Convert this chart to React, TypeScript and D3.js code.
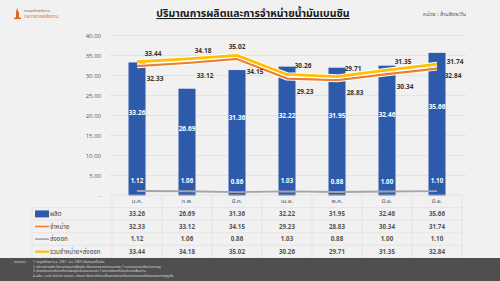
import React from 'react';
import * as d3 from 'd3';

// values in million litres / day
const months = ['ม.ค.', 'ก.พ.', 'มี.ค.', 'เม.ย.', 'พ.ค.', 'มิ.ย.', 'มิ.ย.'];
const production = [33.26, 26.69, 31.36, 32.22, 31.95, 32.46, 35.66];
const sales = [32.33, 33.12, 34.15, 29.23, 28.83, 30.34, 31.74];
const exports = [1.12, 1.06, 0.86, 1.03, 0.88, 1.0, 1.1];
const salesPlusExports = [33.44, 34.18, 35.02, 30.26, 29.71, 31.35, 32.84];
const yTicks = [0, 5, 10, 15, 20, 25, 30, 35, 40];

const seriesNames = ['ผลิต', 'จำหน่าย', 'ส่งออก', 'รวมจำหน่าย+ส่งออก'];

const footNotes = [
  '1. ข้อมูลปีล่าสุด (ม.ค. 2567 - มิ.ย. 2567) เป็นข้อมูลเบื้องต้น',
  '2. ปริมาณการผลิต ไม่รวมการนำเข้าเพื่อผลิต ปริมาณการจำหน่ายตามมาตรา 7 รวมการจำหน่ายให้หน่วยงานรัฐ',
  '3. ส่งออกรวมการส่งออกโดยบริษัทผู้ค้าน้ำมันตามมาตรา 7 และการส่งออกไปยังประเทศเพื่อนบ้าน',
  '4. ผลิต + นำเข้า ไม่เท่ากับ จำหน่าย + ส่งออก เนื่องจากมีการเปลี่ยนแปลงของปริมาณน้ำมันคงเหลือในคลังและการสูญเสีย',
];

const W = 500;
const H = 281;
const plotLeft = 112;
const plotRight = 462;
const thaiFont = "'Noto Sans Thai', Tahoma, 'Noto Sans', 'DejaVu Sans', sans-serif";
const numFont = "'Open Sans', 'Noto Sans', sans-serif";

const colors = {
  bar: '#2e5aac',
  sales: '#ed7d31',
  exports: '#a5a5a5',
  total: '#ffc000',
};

export default function App() {
  const x = d3.scaleBand<string>()
    .domain(months.map((m, i) => i + ''))
    .range([plotLeft, plotRight])
    .paddingInner(0.66)
    .paddingOuter(0.33);
  const y = d3.scaleLinear().domain([0, 40]).range([195.5, 35.5]);
  const cx = (i: number) => (x(i + '') as number) + x.bandwidth() / 2;
  const step = x.step();

  const line = d3.line<number>().x((d, i) => cx(i)).y(d => y(d));

  const last = months.length - 1;
  const tableTop = 195;
  const rowH = 12.6;
  const tableLeft = 32;

  const rows = [production, sales, exports, salesPlusExports];

  return (
    <svg width={W} height={H} style={{ position: 'absolute', left: 0, top: 0, background: '#f1f1f1' }}>
      <rect x={0} y={0} width={W} height={H} fill="#f1f1f1" />

      {/* logo */}
      <g>
        <path d="M16,19 L16,12 Q16,9 18,8 Q17,11 19,12 L19,19 Z" fill="#e06a1c" />
        <rect x={14} y={17.5} width={7} height={1.6} fill="#e06a1c" />
        <text x={24} y={12} fontSize={3.6} fill="#8a6a5a" fontFamily={thaiFont}>กรมธุรกิจพลังงาน</text>
        <text x={24} y={18} fontSize={5} fill="#e07a3a" fontFamily={thaiFont}>กระทรวงพลังงาน</text>
      </g>

      {/* title */}
      <text x={253} y={17} textAnchor="middle" fontSize={10.5} fontWeight={700} fill="#1a1a1a"
        fontFamily={thaiFont} textDecoration="underline">
        ปริมาณการผลิตและการจำหน่ายน้ำมันเบนซิน
      </text>
      <text x={423} y={16} fontSize={5.5} fill="#555" fontFamily={thaiFont}>หน่วย : ล้านลิตร/วัน</text>

      {/* grid + y axis */}
      {yTicks.map(t => (
        <g key={t}>
          {t > 0 && <line x1={110} x2={466} y1={y(t)} y2={y(t)} stroke="#e0e0e0" strokeWidth={0.8} />}
          <text x={101} y={y(t) + 2} textAnchor="end" fontSize={6} fill="#555" fontFamily={numFont}>
            {t === 0 ? '-' : t.toFixed(2)}
          </text>
        </g>
      ))}

      {/* bars */}
      {production.map((v, i) => (
        <rect key={i} x={x(i + '')} y={y(v)} width={x.bandwidth()} height={y(0) - y(v)} fill={colors.bar} />
      ))}
      {production.map((v, i) => (
        <text key={i} x={cx(i)} y={y(v) + (y(0) - y(v)) * 0.38 + 2} textAnchor="middle" fontSize={6.5}
          fontWeight={700} fill="#fff" fontFamily={numFont}>{v.toFixed(2)}</text>
      ))}

      {/* export line */}
      <path d={line(exports) as string} fill="none" stroke={colors.exports} strokeWidth={1.8} />
      {exports.map((v, i) => (
        <text key={i} x={cx(i)} y={y(v) - 8} textAnchor="middle" fontSize={6.2}
          fontWeight={700} fill="#fff" fontFamily={numFont}>{v.toFixed(2)}</text>
      ))}

      {/* sales + total lines with white casing */}
      <path d={line(sales) as string} fill="none" stroke="#fff" strokeWidth={4} strokeLinejoin="round" />
      <path d={line(sales) as string} fill="none" stroke={colors.sales} strokeWidth={2.2} strokeLinejoin="round" />
      <path d={line(salesPlusExports) as string} fill="none" stroke="#fff" strokeWidth={4.6} strokeLinejoin="round" />
      <path d={line(salesPlusExports) as string} fill="none" stroke={colors.total} strokeWidth={2.8} strokeLinejoin="round" />

      {sales.map((v, i) => {
        const below = i !== last;
        return (
          <text key={i} x={cx(i) + 18} y={below ? y(v) + 15 : y(v) - 5} textAnchor="middle" fontSize={6.5}
            fontWeight={700} fill="#333" fontFamily={numFont}>{v.toFixed(2)}</text>
        );
      })}
      {salesPlusExports.map((v, i) => {
        const above = i !== last;
        return (
          <text key={i} x={cx(i) + (i === 2 ? 0 : 16)} y={above ? y(v) - 6 : y(v) + 14} textAnchor="middle" fontSize={6.5}
            fontWeight={700} fill="#333" fontFamily={numFont}>{v.toFixed(2)}</text>
        );
      })}

      {/* data table */}
      <g fontFamily={numFont}>
        {d3.range(6).map(r => (
          <line key={r} x1={r === 0 ? plotLeft : tableLeft} x2={plotRight} y1={tableTop + r * rowH} y2={tableTop + r * rowH}
            stroke="#dcdcdc" strokeWidth={0.6} />
        ))}
        {d3.range(months.length + 1).map(c => (
          <line key={c} x1={plotLeft + c * step} x2={plotLeft + c * step} y1={tableTop} y2={tableTop + 5 * rowH}
            stroke="#dcdcdc" strokeWidth={0.6} />
        ))}
        <line x1={tableLeft} x2={tableLeft} y1={tableTop + rowH} y2={tableTop + 5 * rowH} stroke="#dcdcdc" strokeWidth={0.6} />
        {months.map((m, i) => (
          <text key={i} x={cx(i)} y={tableTop + rowH / 2 + 2} textAnchor="middle" fontSize={6} fill="#555"
            fontFamily={thaiFont}>{m}</text>
        ))}
        {rows.map((vals, r) => (
          <g key={r}>
            {vals.map((v, i) => (
              <text key={i} x={cx(i)} y={tableTop + (r + 1.5) * rowH + 2.2} textAnchor="middle" fontSize={6.2}
                fontWeight={700} fill="#555">{v.toFixed(2)}</text>
            ))}
          </g>
        ))}
        {seriesNames.map((n, r) => {
          const cy = tableTop + (r + 1.5) * rowH;
          const c = [colors.bar, colors.sales, colors.exports, colors.total][r];
          return (
            <g key={n}>
              {r === 0
                ? <rect x={35} y={cy - 3.5} width={14} height={7} fill={c} />
                : <line x1={35} x2={49} y1={cy} y2={cy} stroke={c} strokeWidth={r === 3 ? 2.2 : 1.6} />}
              <text x={50} y={cy + 2.2} fontSize={6.2} fill="#444" fontFamily={thaiFont}>{n}</text>
            </g>
          );
        })}
      </g>

      {/* footer */}
      <rect x={0} y={258} width={W} height={H - 258} fill="#4f4f4f" />
      <text x={14} y={263} fontSize={3} fill="#ddd" fontFamily={thaiFont}>หมายเหตุ :</text>
      {footNotes.map((t, i) => (
        <text key={i} x={33} y={263 + i * 4.6} fontSize={3} fill="#ddd" fontFamily={thaiFont}>{t}</text>
      ))}
    </svg>
  );
}
